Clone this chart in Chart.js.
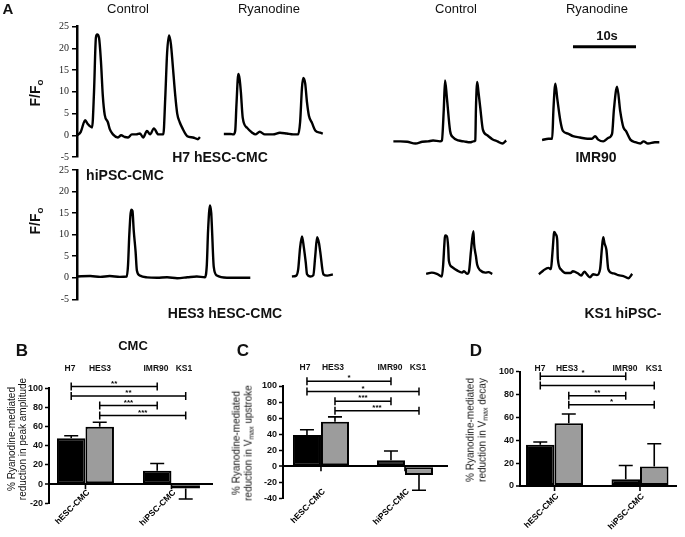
<!DOCTYPE html>
<html>
<head>
<meta charset="utf-8">
<script src="https://cdn.jsdelivr.net/npm/chart.js@4.4.1/dist/chart.umd.min.js"></script>
<style>
  body { margin: 0; background: #fff; }
  #wrap { position: relative; width: 685px; height: 537px; overflow: hidden; font-family: "Liberation Sans", Arial, sans-serif; color: #111; }
  canvas { position: absolute; }
  .t { position: absolute; transform: translate(-50%, -50%); white-space: nowrap; line-height: 1; }
  .b { font-weight: bold; }
  .rot { position: absolute; transform: translate(-50%, -50%) rotate(-90deg); white-space: nowrap; text-align: center; }
  sub { font-size: 70%; vertical-align: -0.25em; }
</style>
</head>
<body>
<div id="wrap">
  <canvas id="cTop" width="685" height="166" style="left:0px;top:0px"></canvas>
  <canvas id="cBot" width="685" height="152" style="left:0px;top:160px"></canvas>
  <canvas id="cB" width="228" height="207" style="left:0px;top:330px"></canvas>
  <canvas id="cC" width="228" height="207" style="left:228px;top:330px"></canvas>
  <canvas id="cD" width="229" height="207" style="left:456px;top:330px"></canvas>

  <!-- panel A text -->
  <div class="t b" style="left:8px;top:8px;font-size:15px">A</div>
  <div class="t" style="left:128px;top:8px;font-size:13px">Control</div>
  <div class="t" style="left:269px;top:8px;font-size:13px">Ryanodine</div>
  <div class="t" style="left:456px;top:8px;font-size:13px">Control</div>
  <div class="t" style="left:597px;top:8px;font-size:13px">Ryanodine</div>
  <div class="t b" style="left:607px;top:35px;font-size:13px">10s</div>
  <div class="rot b" style="left:36px;top:93px;font-size:14px">F/F<sub>o</sub></div>
  <div class="rot b" style="left:36px;top:221px;font-size:14px">F/F<sub>o</sub></div>
  <div class="t b" style="left:220px;top:157px;font-size:14px">H7 hESC-CMC</div>
  <div class="t b" style="left:596px;top:157px;font-size:14px">IMR90</div>
  <div class="t b" style="left:125px;top:175px;font-size:14px">hiPSC-CMC</div>
  <div class="t b" style="left:225px;top:313px;font-size:14px">HES3 hESC-CMC</div>
  <div class="t b" style="left:623px;top:313px;font-size:14px">KS1 hiPSC-</div>

  <!-- panel B/C/D text -->
  <div class="t b" style="left:22px;top:350px;font-size:17px">B</div>
  <div class="t b" style="left:133px;top:345px;font-size:13px">CMC</div>
  <div class="t b" style="left:243px;top:350px;font-size:17px">C</div>
  <div class="t b" style="left:476px;top:350px;font-size:17px">D</div>

  <div class="t b" style="left:70px;top:368px;font-size:8.5px">H7</div>
  <div class="t b" style="left:100px;top:368px;font-size:8.5px">HES3</div>
  <div class="t b" style="left:156px;top:368px;font-size:8.5px">IMR90</div>
  <div class="t b" style="left:184px;top:368px;font-size:8.5px">KS1</div>
  <div class="t b" style="left:305px;top:367px;font-size:8.5px">H7</div>
  <div class="t b" style="left:333px;top:367px;font-size:8.5px">HES3</div>
  <div class="t b" style="left:390px;top:367px;font-size:8.5px">IMR90</div>
  <div class="t b" style="left:418px;top:367px;font-size:8.5px">KS1</div>
  <div class="t b" style="left:540px;top:368px;font-size:8.5px">H7</div>
  <div class="t b" style="left:567px;top:368px;font-size:8.5px">HES3</div>
  <div class="t b" style="left:625px;top:368px;font-size:8.5px">IMR90</div>
  <div class="t b" style="left:654px;top:368px;font-size:8.5px">KS1</div>

  <div class="rot" style="left:17px;top:439px;font-size:10px;line-height:11px">% Ryanodine-mediated<br>reduction in peak amplitude</div>
  <div class="rot" style="left:244px;top:443px;font-size:10px;line-height:12px">% Ryanodine-mediated<br>reduction in V<sub>max</sub> upstroke</div>
  <div class="rot" style="left:478px;top:430px;font-size:10px;line-height:12px">% Ryanodine-mediated<br>reduction in V<sub>max</sub> decay</div>
</div>

<script>
// calcium transients, [time (s), F/Fo]; both rows share one time axis
const H7_CTRL = [[0,0],[0.6,0.8],[1.3,3.5],[1.7,2.6],[2.4,1.8],[2.7,10],[3.0,22.5],[3.2,23.2],[3.5,22.4],[3.8,17],[4.1,9],[4.4,4.7],[4.9,3],[5.2,1.4],[5.7,0.2],[6.5,-0.5],[7.0,0],[7.6,-0.4],[8.1,-0.5],[8.7,0.2],[9.4,0.2],[10.0,0.4],[10.5,-0.5],[11.1,1],[11.6,0.2],[12.2,1.6],[12.9,0.2],[13.7,0.2],[14.0,8.5],[14.3,19],[14.6,23.0],[14.9,21],[15.2,16],[15.6,9],[15.9,5],[16.3,3],[16.7,1.7],[17.5,-0.2],[18.4,-0.5],[19.2,-0.9],[19.5,-0.4]];
const H7_RYA = [[23.3,0.3],[24.3,0.3],[24.8,0.2],[25.1,1],[25.3,7],[25.6,14.1],[25.8,13],[26.0,10],[26.3,4],[27.0,1.7],[27.8,0.6],[28.3,0.2],[29.0,0.8],[29.8,0.2],[31.1,0.2],[32.2,0.6],[33.3,0.4],[34.3,0.2],[35.1,0.2],[35.4,3],[35.7,11],[35.9,13.2],[36.2,12],[36.5,7.5],[36.8,4.5],[37.3,2.8],[37.8,1.1],[38.6,0.6],[39.0,0.4]];
const IMR90_CTRL = [[50.2,-1.4],[51.3,-1.4],[52.4,-1.5],[53.7,-1.9],[54.8,-1.5],[55.7,-1.4],[56.5,-1.2],[57.6,-1.4],[57.9,-1.2],[58.2,6],[58.4,12.6],[58.7,8.5],[59.2,1],[59.7,-0.5],[60.5,-1.2],[61.4,-1.4],[62.4,-1.6],[62.9,-1.4],[63.2,-1.2],[63.3,6],[63.5,12.3],[63.7,10],[64.0,6.2],[64.4,1.3],[65.1,0],[65.9,-0.9],[66.7,-1.4],[67.5,-1.9],[68.1,-1.2]];
const IMR90_RYA = [[73.8,-1.1],[74.8,-0.8],[75.4,-0.8],[75.6,6],[75.9,11.9],[76.2,8.5],[76.7,3.3],[77.1,1],[77.9,0.4],[78.7,-0.2],[79.8,-0.5],[81.0,-0.8],[81.7,-0.8],[82.2,-0.2],[82.7,-1],[83.5,-1.4],[84.3,-0.6],[84.9,0.3],[85.2,6],[85.7,11.2],[86.2,5.5],[86.7,1.8],[87.1,1],[87.8,-1],[88.6,-1.6],[89.4,-1.9],[89.9,-1.4],[90.6,-1.9],[91.7,-1.6],[92.4,-1.6]];
const HES3_CTRL = [[0,0.3],[2.1,0.4],[3.7,0.2],[5.2,0.4],[6.8,0.2],[7.9,0.3],[8.1,3],[8.3,10],[8.6,15.8],[8.8,15.5],[9.0,11],[9.3,6],[9.5,1.7],[10.0,0.5],[11.1,0.1],[12.7,0],[14.3,0.1],[15.9,-0.1],[17.5,0.1],[19.0,0.3],[20.3,0.1],[20.6,3],[20.8,11],[21.1,16.8],[21.3,15],[21.4,12],[21.7,2.5],[22.2,0.5],[23.8,0],[25.9,0],[27.5,0]];
const HES3_RYA = [[34.1,0.3],[34.8,0.5],[35.1,2],[35.4,7],[35.7,9.6],[36.0,7],[36.3,3.5],[36.5,0.8],[37.0,0.3],[37.5,0.6],[37.8,5],[38.1,9.4],[38.4,8],[38.6,6],[39.1,0.8],[39.7,0.5],[40.6,0.8]];
const KS1_CTRL = [[55.4,0.9],[56.3,1.2],[57.1,0.9],[57.9,0.3],[58.1,3],[58.3,8],[58.4,9.8],[58.7,9.6],[58.9,7],[59.0,4],[59.5,2.5],[60.3,1.7],[61.1,1.2],[61.4,1.5],[61.9,0.9],[62.2,1.5],[62.5,6],[62.9,10.8],[63.0,8],[63.3,5],[63.5,3],[64.0,1.7],[64.8,1.2],[65.3,1.3],[65.9,0.9]];
const KS1_RYA = [[73.3,0.8],[74.0,1.7],[74.8,2.3],[75.2,2],[75.4,5],[75.6,9],[75.7,10.6],[76.0,10],[76.2,8.7],[76.3,4.3],[76.8,1.9],[77.5,1.1],[78.3,1.1],[78.7,1.5],[79.4,1.1],[80.0,0.5],[80.5,1.4],[81.0,0.6],[81.4,0.1],[81.9,0.8],[82.5,0.6],[83.0,2],[83.3,7],[83.5,9.4],[83.7,8],[84.0,6.5],[84.3,2],[84.9,1.1],[85.4,0.9],[85.9,0.6],[86.7,0.4],[87.5,-0.1],[88.1,0.9]];
const SCALE_BAR_START = 78.7, SCALE_BAR_SEC = 10, SCALE_BAR_LEVEL = 20.4;
const TRACE_TICKS = [-5, 25, 5];

// bar panels: black bars = H7 / IMR90, grey bars = HES3 / KS1
const CATEGORIES = ['hESC-CMC', 'hiPSC-CMC'];
const AMP_BLACK = [48, 14], AMP_GREY = [60, -4.5];
const AMP_ERR_BLACK = [2.5, 7.5], AMP_ERR_GREY = [4.5, 11];
const UP_BLACK = [39, 7.5], UP_GREY = [55.5, -11];
const UP_ERR_BLACK = [6.5, 11.5], UP_ERR_GREY = [6, 19];
const DEC_BLACK = [36, 6], DEC_GREY = [55, 17];
const DEC_ERR_BLACK = [2.5, 12], DEC_ERR_GREY = [8, 20];
// significance brackets: from, to, height, stars
const AMP_SIG = [['H7','IMR90',102,'**'],['H7','KS1',92,'**'],['HES3','IMR90',82,'***'],['HES3','KS1',71.5,'***']];
const UP_SIG = [['H7','IMR90',106,'*'],['H7','KS1',93,'*'],['HES3','IMR90',81,'***'],['HES3','KS1',69,'***']];
const DEC_SIG = [['H7','IMR90',96,'*'],['H7','KS1',88,''],['HES3','IMR90',79,'**'],['HES3','KS1',71,'*']];

const BAR_POS = { H7: [0, 0], HES3: [1, 0], IMR90: [0, 1], KS1: [1, 1] };
const pts = (arr) => arr.map(([x, y]) => ({ x, y }));
const line = (arr, w) => ({ data: pts(arr), borderColor: '#000', borderWidth: w || 2.4, pointRadius: 0, cubicInterpolationMode: 'monotone', fill: false });

function traceChart(id, traces, pad, withBar) {
  const ds = traces.map(t => line(t));
  if (withBar) ds.push({ data: [{ x: SCALE_BAR_START, y: SCALE_BAR_LEVEL }, { x: SCALE_BAR_START + SCALE_BAR_SEC, y: SCALE_BAR_LEVEL }], borderColor: '#000', borderWidth: 3, pointRadius: 0 });
  new Chart(document.getElementById(id), {
    type: 'line',
    data: { datasets: ds },
    options: {
      responsive: false, animation: false,
      layout: { padding: pad },
      plugins: { legend: { display: false }, tooltip: { enabled: false } },
      scales: {
        x: { type: 'linear', min: 0, max: 93.3, display: false },
        y: {
          min: TRACE_TICKS[0], max: TRACE_TICKS[1],
          ticks: { stepSize: TRACE_TICKS[2], color: '#222', padding: 3, font: { family: 'Liberation Serif', size: 10 } },
          grid: { drawOnChartArea: false, drawTicks: true, tickLength: 5, color: '#000', lineWidth: 1.5 },
          border: { display: true, color: '#000', width: 2.5 },
          afterFit: s => { s.width = 40; }
        }
      }
    }
  });
}

traceChart('cTop', [H7_CTRL, H7_RYA, IMR90_CTRL, IMR90_RYA], { left: 37, right: 20, top: 26.7, bottom: 6.7 }, true);
traceChart('cBot', [HES3_CTRL, HES3_RYA, KS1_CTRL, KS1_RYA], { left: 37, right: 20, top: 10, bottom: 12.7 }, false);

function extras(errs, sig, lblPad) {
  return {
    id: 'extras',
    afterDatasetsDraw(chart) {
      const ctx = chart.ctx, ys = chart.scales.y, xs = chart.scales.x;
      ctx.save();
      ctx.strokeStyle = '#000';
      ctx.fillStyle = '#000';
      ctx.lineWidth = 1.6;
      errs.forEach((e, di) => {
        chart.getDatasetMeta(di).data.forEach((bar, i) => {
          const v = chart.data.datasets[di].data[i].y;
          const y1 = ys.getPixelForValue(v), y2 = ys.getPixelForValue(v + Math.sign(v) * e[i]);
          ctx.beginPath();
          ctx.moveTo(bar.x, y1); ctx.lineTo(bar.x, y2);
          ctx.moveTo(bar.x - 7, y2); ctx.lineTo(bar.x + 7, y2);
          ctx.stroke();
        });
      });
      // category ticks under the zero line, and rotated category labels
      const y0 = ys.getPixelForValue(0);
      ctx.font = 'bold 8.5px "Liberation Sans", Arial, sans-serif';
      xs.ticks.forEach((t, i) => {
        const px = xs.getPixelForValue(t.value);
        ctx.beginPath(); ctx.moveTo(px, y0); ctx.lineTo(px, y0 + 5); ctx.stroke();
        ctx.save();
        ctx.translate(px + 3, chart.chartArea.bottom + lblPad);
        ctx.rotate(-Math.PI / 4);
        ctx.textAlign = 'right';
        ctx.textBaseline = 'middle';
        ctx.fillText(CATEGORIES[i], 0, 0);
        ctx.restore();
      });
      ctx.lineWidth = 1.5;
      ctx.font = 'bold 8px "Liberation Sans", Arial, sans-serif';
      ctx.textAlign = 'center';
      ctx.textBaseline = 'bottom';
      sig.forEach(([a, b, h, stars]) => {
        const pa = chart.getDatasetMeta(BAR_POS[a][0]).data[BAR_POS[a][1]].x;
        const pb = chart.getDatasetMeta(BAR_POS[b][0]).data[BAR_POS[b][1]].x;
        const py = ys.getPixelForValue(h);
        ctx.beginPath();
        ctx.moveTo(pa, py); ctx.lineTo(pb, py);
        ctx.moveTo(pa, py - 4); ctx.lineTo(pa, py + 4);
        ctx.moveTo(pb, py - 4); ctx.lineTo(pb, py + 4);
        ctx.stroke();
        if (stars) ctx.fillText(stars, (pa + pb) / 2, py + 1);
      });
      ctx.restore();
    }
  };
}

function barChart(id, black, grey, errBlack, errGrey, sig, o) {
  const toXY = arr => arr.map((v, i) => ({ x: i + 1, y: v }));
  new Chart(document.getElementById(id), {
    type: 'bar',
    data: {
      datasets: [
        { data: toXY(black), backgroundColor: '#000', borderColor: '#000', borderWidth: 2, borderSkipped: false },
        { data: toXY(grey), backgroundColor: '#9c9c9c', borderColor: '#000', borderWidth: 2, borderSkipped: false }
      ]
    },
    options: {
      responsive: false, animation: false,
      layout: { padding: o.pad },
      plugins: { legend: { display: false }, tooltip: { enabled: false } },
      datasets: { bar: { categoryPercentage: o.cat, barPercentage: 1 } },
      scales: {
        x: {
          type: 'linear', min: o.xmin, max: o.xmax, offset: false,
          afterBuildTicks: s => { s.ticks = CATEGORIES.map((c, i) => ({ value: i + 1 })); },
          ticks: { display: false },
          grid: { display: false, drawTicks: false, offset: false },
          border: { display: false },
          afterFit: s => { s.height = o.xh; }
        },
        y: {
          min: o.ymin, max: 100,
          ticks: { stepSize: 20, color: '#111', padding: 2, font: { family: 'Liberation Sans', size: 9, weight: 'bold' } },
          grid: {
            drawOnChartArea: true, drawTicks: true, tickLength: 4,
            color: c => (c.tick && c.tick.value === 0 ? '#000' : 'rgba(0,0,0,0)'),
            lineWidth: c => (c.tick && c.tick.value === 0 ? 2 : 1),
            tickColor: '#000', tickWidth: 1.5
          },
          border: { display: true, color: '#000', width: 2 },
          afterFit: s => { s.width = 22; }
        }
      }
    },
    plugins: [extras([errBlack, errGrey], sig, o.lblPad)]
  });
}

barChart('cB', AMP_BLACK, AMP_GREY, AMP_ERR_BLACK, AMP_ERR_GREY, AMP_SIG,
  { pad: { left: 27, right: 15, top: 58.3, bottom: 0 }, xh: 33.7, xmin: 0.576, xmax: 2.483, cat: 0.663, ymin: -20, lblPad: -12 });
barChart('cC', UP_BLACK, UP_GREY, UP_ERR_BLACK, UP_ERR_GREY, UP_SIG,
  { pad: { left: 33, right: 8, top: 56, bottom: 0 }, xh: 38.7, xmin: 0.548, xmax: 2.512, cat: 0.667, ymin: -40, lblPad: -8 });
barChart('cD', DEC_BLACK, DEC_GREY, DEC_ERR_BLACK, DEC_ERR_GREY, DEC_SIG,
  { pad: { left: 42, right: 8, top: 41.7, bottom: 0 }, xh: 51, xmin: 0.596, xmax: 2.433, cat: 0.667, ymin: 0, lblPad: 9 });
</script>
</body>
</html>
